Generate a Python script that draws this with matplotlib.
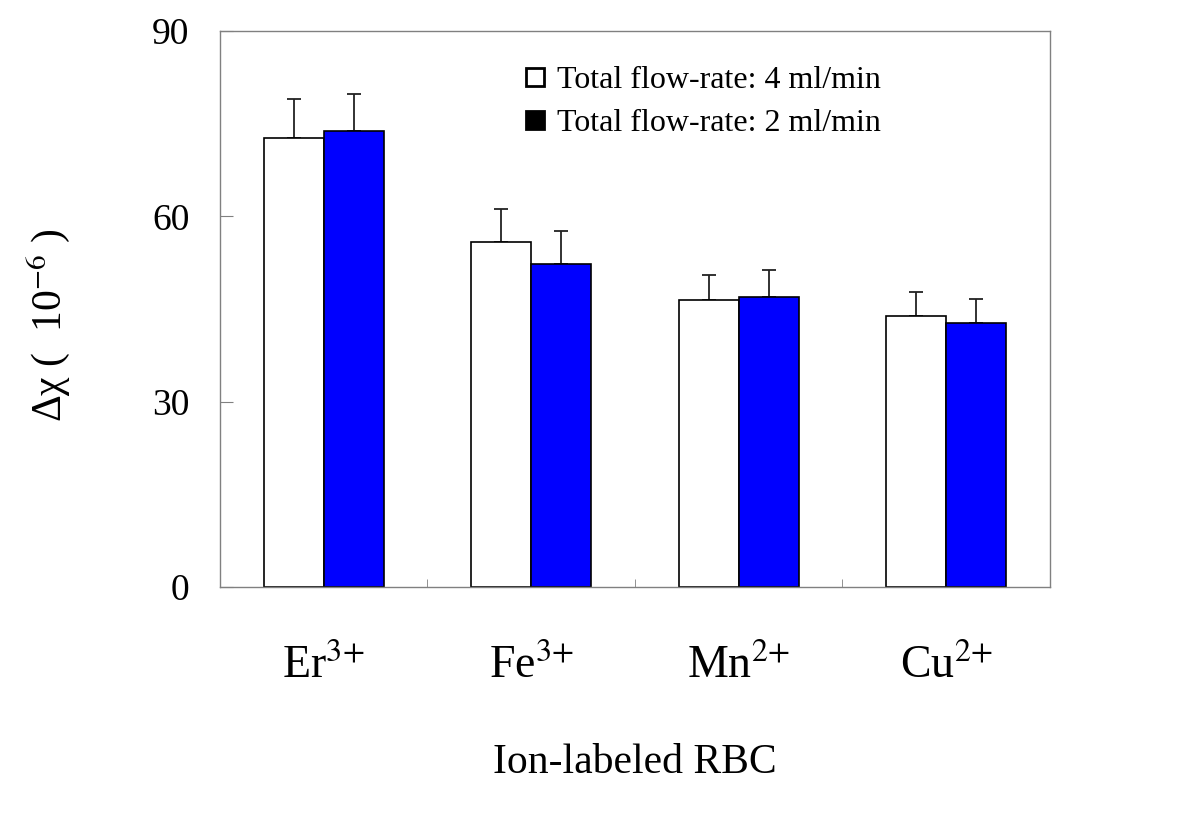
import numpy as np
import matplotlib
matplotlib.use('Agg')
import matplotlib.pyplot as plt
from matplotlib.lines import Line2D

plt.rcParams['font.family'] = ['Liberation Serif', 'DejaVu Serif']
plt.rcParams['mathtext.fontset'] = 'stix'

# data
ions = ['Er$^{3{+}}$', 'Fe$^{3{+}}$', 'Mn$^{2{+}}$', 'Cu$^{2{+}}$']
flow_4 = [72.7, 55.8, 46.5, 43.9]
flow_4_err = [6.3, 5.4, 4.0, 3.9]
flow_2 = [73.8, 52.3, 46.9, 42.7]
flow_2_err = [6.0, 5.3, 4.4, 4.0]
legend_labels = ['Total flow-rate: 4 ml/min', 'Total flow-rate: 2 ml/min']

fig = plt.figure(figsize=(12, 8.21), dpi=100)
ax = fig.add_axes([0.1833, 0.285, 0.6917, 0.6772])

x = np.arange(len(ions))
w = 0.29
ax.bar(x - w / 2, flow_4, w, color='white', edgecolor='black', linewidth=1.2, zorder=2)
ax.bar(x + w / 2, flow_2, w, color='#0000ff', edgecolor='black', linewidth=1.2, zorder=2)
ax.errorbar(x - w / 2, flow_4, yerr=[np.zeros(4), flow_4_err], fmt='none',
            ecolor='#222222', elinewidth=1.3, capsize=5, capthick=1.3, zorder=1)
ax.errorbar(x + w / 2, flow_2, yerr=[np.zeros(4), flow_2_err], fmt='none',
            ecolor='#222222', elinewidth=1.3, capsize=5, capthick=1.3, zorder=1)

ax.set_xlim(-0.5, 3.5)
ax.set_ylim(0, 90)
ax.set_yticks([0, 30, 60, 90])
ax.set_xticks(x)
ax.set_xticklabels(ions, fontsize=33)
ax.set_xticks(x[:-1] + 0.5, minor=True)
ax.tick_params(axis='x', which='major', length=0, pad=42)
ax.tick_params(axis='x', which='minor', direction='in', length=6, color='#808080')
ax.tick_params(axis='y', direction='in', length=9, color='#808080', labelsize=27, pad=22)
for s in ax.spines.values():
    s.set_color('#808080')
    s.set_linewidth(1.0)

ax.set_xlabel('Ion-labeled RBC', fontsize=30, labelpad=40)
ax.set_ylabel('Δχ (  10$^{\\mathrm{-6}}$ )', fontsize=30)
ax.yaxis.set_label_coords(-0.178, 0.47)

handles = [
    Line2D([], [], marker='s', ls='', mfc='white', mec='black', mew=2, ms=13),
    Line2D([], [], marker='s', ls='', mfc='black', mec='black', mew=2, ms=13),
]
ax.legend(handles, legend_labels, loc='upper left', bbox_to_anchor=(0.347, 0.966),
          frameon=False, fontsize=23, handlelength=0.7, handletextpad=0.35,
          labelspacing=0.42, borderpad=0)

fig.savefig('out.png', dpi=100)
